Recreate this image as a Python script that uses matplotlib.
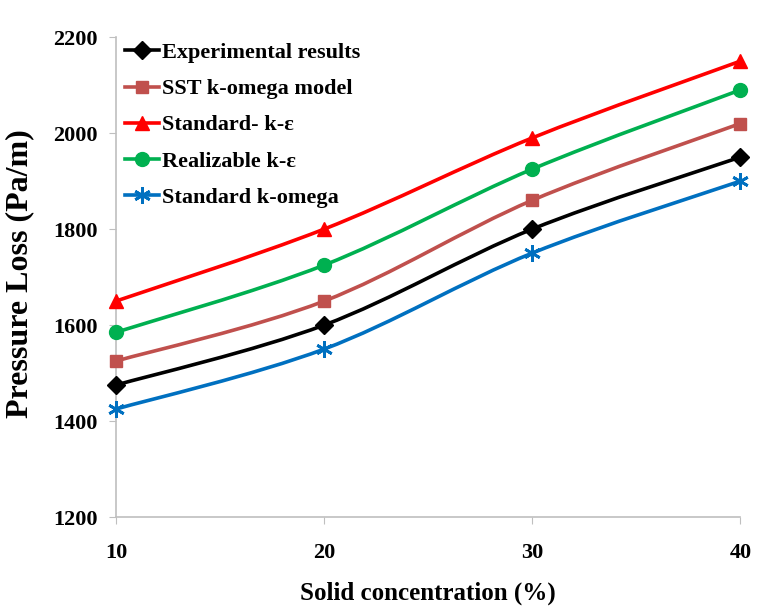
import numpy as np
import matplotlib.pyplot as plt
from matplotlib.path import Path
from matplotlib.patches import PathPatch
from matplotlib.lines import Line2D

plt.rcParams['font.family'] = ['Liberation Serif', 'DejaVu Serif']
plt.rcParams['font.weight'] = 'bold'

# solid concentration (%)
conc = [10, 20, 30, 40]

# pressure loss (Pa/m)
experimental = [1475, 1600, 1800, 1950]
sst_komega = [1525, 1650, 1860, 2020]
standard_ke = [1650, 1800, 1990, 2150]
realizable_ke = [1585, 1725, 1925, 2090]
standard_komega = [1425, 1550, 1750, 1900]

series = [
    ("Experimental results", experimental, '#000000', 'D', 9),
    ("SST k-omega model", sst_komega, '#C0504D', 's', 9),
    ("Standard- k-ε", standard_ke, '#FF0000', '^', 10),
    ("Realizable k-ε", realizable_ke, '#00B050', 'o', 10),
    ("Standard k-omega", standard_komega, '#0070C0', (6, 2, 0), 12),
]


def smooth_path(ax, x, y):
    # Catmull-Rom style bezier, like spreadsheet "smoothed line"
    px = np.array([ax.transData.transform((a, b)) for a, b in zip(x, y)])
    verts = [px[0]]
    codes = [Path.MOVETO]
    n = len(px)
    for i in range(n - 1):
        p0 = px[max(i - 1, 0)]
        p1 = px[i]
        p2 = px[i + 1]
        p3 = px[min(i + 2, n - 1)]
        c1 = p1 + (p2 - p0) / 6.0
        c2 = p2 - (p3 - p1) / 6.0
        verts += [c1, c2, p2]
        codes += [Path.CURVE4] * 3
    return Path(verts, codes)


fig = plt.figure(figsize=(7.68, 6.09), dpi=100)
ax = fig.add_axes([0.151, 0.151, 0.813, 0.788])
ax.set_xlim(10, 40)
ax.set_ylim(1200, 2200)

handles = []
for label, vals, color, marker, ms in series:
    mew = 2.0 if marker == (6, 2, 0) else 1
    path = smooth_path(ax, conc, vals)
    ax.add_patch(PathPatch(path, transform=None, facecolor='none',
                           edgecolor=color, lw=2.6, zorder=2,
                           capstyle='round', joinstyle='round'))
    ax.plot(conc, vals, linestyle='none', marker=marker, markersize=ms,
            color=color, markeredgecolor=color, markeredgewidth=mew,
            zorder=3, clip_on=False)
    handles.append(Line2D([0], [0], color=color, lw=2.6, marker=marker,
                          markersize=ms, markeredgewidth=mew, label=label))

ax.set_xticks(conc)
ax.set_yticks(np.arange(1200, 2201, 200))
ax.tick_params(axis='both', direction='out', length=5, color='#BFBFBF',
               labelsize=16)
ax.tick_params(axis='y', pad=8)
ax.tick_params(axis='x', pad=14)
for lab in ax.get_xticklabels() + ax.get_yticklabels():
    lab.set_fontweight('bold')

for side in ['top', 'right']:
    ax.spines[side].set_visible(False)
for side in ['left', 'bottom']:
    ax.spines[side].set_color('#BFBFBF')
    ax.spines[side].set_linewidth(1.2)

ax.set_xlabel("Solid concentration (%)", fontsize=18, fontweight='bold', labelpad=13)
fig.text(0.026, 0.55, "Pressure Loss (Pa/m)", rotation=90, fontsize=23,
         fontweight='bold', ha='center', va='center')

ax.legend(handles=handles, loc='upper left', bbox_to_anchor=(0.0, 1.007),
          frameon=False, handlelength=1.55, handletextpad=0.1,
          labelspacing=0.7, borderaxespad=0.0,
          prop={'weight': 'bold', 'size': 16})

fig.savefig("out.png", dpi=100)
